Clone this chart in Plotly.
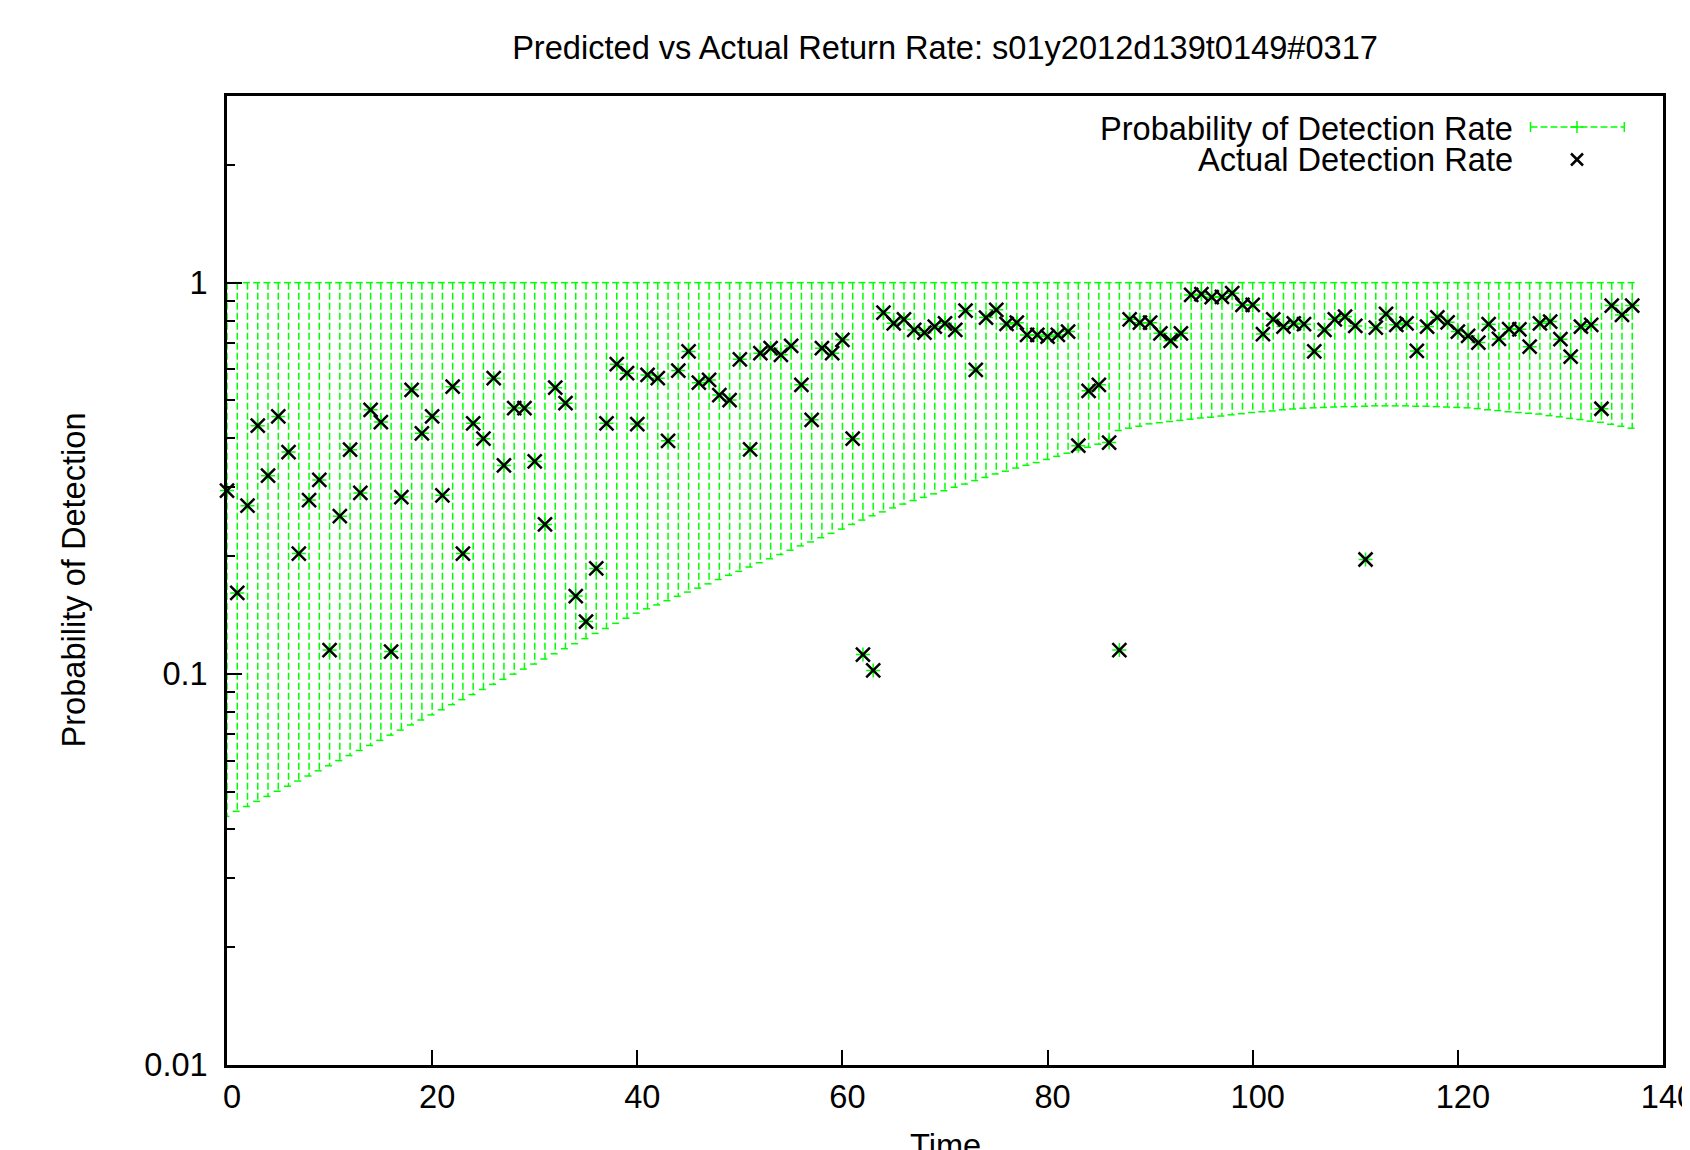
import math
import plotly.graph_objects as go

# ---------------- data ----------------
TITLE = "Predicted vs Actual Return Rate: s01y2012d139t0149#0317"
X_TITLE = "Time"
Y_TITLE = "Probability of Detection"
BAND_NAME = "Probability of Detection Rate"
ACTUAL_NAME = "Actual Detection Rate"

time = list(range(0, 138))

actual_rate = [
    0.294, 0.161, 0.269, 0.431, 0.321, 0.455, 0.369, 0.203, 0.278, 0.313,
    0.115, 0.253, 0.374, 0.290, 0.473, 0.440, 0.114, 0.283, 0.532, 0.412,
    0.455, 0.286, 0.542, 0.203, 0.437, 0.399, 0.570, 0.341, 0.478, 0.478,
    0.349, 0.241, 0.539, 0.492, 0.158, 0.136, 0.186, 0.437, 0.619, 0.587,
    0.435, 0.581, 0.570, 0.394, 0.596, 0.667, 0.555, 0.564, 0.516, 0.501,
    0.637, 0.375, 0.660, 0.680, 0.654, 0.689, 0.548, 0.446, 0.680, 0.660,
    0.714, 0.399, 0.112, 0.102, 0.838, 0.787, 0.806, 0.757, 0.745, 0.772,
    0.787, 0.757, 0.848, 0.598, 0.814, 0.852, 0.784, 0.790, 0.735, 0.735,
    0.728, 0.735, 0.750, 0.383, 0.529, 0.548, 0.390, 0.115, 0.806, 0.790,
    0.790, 0.742, 0.710, 0.742, 0.930, 0.934, 0.918, 0.920, 0.940, 0.877,
    0.877, 0.739, 0.806, 0.772, 0.787, 0.783, 0.667, 0.757, 0.806, 0.819,
    0.775, 0.196, 0.767, 0.832, 0.780, 0.787, 0.669, 0.772, 0.815, 0.792,
    0.750, 0.731, 0.703, 0.783, 0.718, 0.761, 0.760, 0.686, 0.787, 0.795,
    0.717, 0.647, 0.772, 0.780, 0.476, 0.874, 0.827, 0.874,
]

lower_bound = [
    0.0432, 0.0445, 0.0458, 0.0472, 0.0486, 0.0501, 0.0516, 0.0532, 0.0548, 0.0565,
    0.0582, 0.0600, 0.0618, 0.0637, 0.0656, 0.0676, 0.0697, 0.0718, 0.0740, 0.0762,
    0.0785, 0.0809, 0.0834, 0.0859, 0.0885, 0.0912, 0.0940, 0.0968, 0.0998, 0.1028,
    0.1059, 0.1091, 0.1125, 0.1159, 0.1194, 0.1230, 0.1268, 0.1306, 0.1346, 0.1387,
    0.1429, 0.1466, 0.1500, 0.1538, 0.1578, 0.1618, 0.1656, 0.1698, 0.1742, 0.1786,
    0.1828, 0.1875, 0.1923, 0.1968, 0.2018, 0.2070, 0.2123, 0.2173, 0.2228, 0.2286,
    0.2344, 0.2410, 0.2472, 0.2535, 0.2594, 0.2655, 0.2716, 0.2773, 0.2825, 0.2884,
    0.2938, 0.2999, 0.3055, 0.3119, 0.3177, 0.3243, 0.3296, 0.3357, 0.3412, 0.3467,
    0.3532, 0.3597, 0.3664, 0.3733, 0.3793, 0.3864, 0.3981, 0.4188, 0.4246, 0.4295,
    0.4355, 0.4385, 0.4416, 0.4446, 0.4477, 0.4508, 0.4529, 0.4560, 0.4592, 0.4624,
    0.4656, 0.4677, 0.4699, 0.4732, 0.4753, 0.4775, 0.4786, 0.4797, 0.4808, 0.4819,
    0.4819, 0.4831, 0.4842, 0.4842, 0.4842, 0.4842, 0.4831, 0.4831, 0.4819, 0.4808,
    0.4797, 0.4786, 0.4764, 0.4732, 0.4710, 0.4677, 0.4656, 0.4634, 0.4613, 0.4571,
    0.4539, 0.4498, 0.4467, 0.4426, 0.4395, 0.4345, 0.4295, 0.4246,
]

UPPER_VALUE = 1.0
upper_bound = [UPPER_VALUE for _ in time]

x_tick_vals = [0, 20, 40, 60, 80, 100, 120, 140]
y_tick_vals = [0.01, 0.1, 1]
y_tick_text = ["0.01", "0.1", "1"]
y_minor_vals = [0.02, 0.03, 0.04, 0.05, 0.06, 0.07, 0.08, 0.09,
                0.2, 0.3, 0.4, 0.5, 0.6, 0.7, 0.8, 0.9, 2]

# ---------------- style ----------------
PAGE_OFF = 8                    # default body margin of the html page
W, H = 1690 - PAGE_OFF, 1150 - PAGE_OFF
ML, MR, MT, MB = 227 - PAGE_OFF, 27, 96 - PAGE_OFF, 85
GREEN = "#00ff00"
FONT = "Liberation Sans, Arial, Helvetica, sans-serif"
FS = 32.6
DASH = "7px,3px"
CAP = 0.45  # half width of error-bar caps in x units

# ---------------- error bars built from the data ----------------
bar_x, bar_y = [], []
cap_x, cap_y = [], []
for t, lo, hi in zip(time, lower_bound, upper_bound):
    bar_x += [t, t, None]
    bar_y += [hi, lo, None]
    cap_x += [t - CAP, t + CAP, None, t - CAP, t + CAP, None]
    cap_y += [lo, lo, None, hi, hi, None]

fig = go.Figure()
fig.add_trace(go.Scatter(x=bar_x, y=bar_y, mode="lines",
                         line=dict(color=GREEN, width=1.5, dash=DASH),
                         hoverinfo="skip", showlegend=False))
fig.add_trace(go.Scatter(x=cap_x, y=cap_y, mode="lines",
                         line=dict(color=GREEN, width=1.5, dash=DASH),
                         hoverinfo="skip", showlegend=False))
fig.add_trace(go.Scatter(x=time, y=actual_rate, mode="markers", name=BAND_NAME,
                         marker=dict(symbol="cross-thin", size=10, color=GREEN,
                                     line=dict(color=GREEN, width=1.5)),
                         cliponaxis=False, showlegend=False))
fig.add_trace(go.Scatter(x=time, y=actual_rate, mode="markers", name=ACTUAL_NAME,
                         marker=dict(symbol="x-thin", size=14, color="black",
                                     line=dict(color="black", width=2.5)),
                         cliponaxis=False, showlegend=False))

# ---------------- legend (gnuplot style: text left, sample right) ----------------
PW = W - ML - MR
PH = H - MT - MB


def fx(p):  # page pixel -> paper fraction
    return (p - PAGE_OFF - ML) / PW


def fy(p):
    return (H - MB - (p - PAGE_OFF)) / PH


row1, row2 = 128, 159.5
text_right = 1515
s0, s1, smid = 1530.5, 1624.3, 1577

shapes = []


def seg(x0, y0, x1, y1, color, width, dash=None):
    d = dict(type="line", xref="paper", yref="paper",
             x0=fx(x0), y0=fy(y0), x1=fx(x1), y1=fy(y1),
             line=dict(color=color, width=width))
    if dash:
        d["line"]["dash"] = dash
    shapes.append(d)


seg(s0, 127, s1, 127, GREEN, 1.5, DASH)
seg(s0, 122, s0, 132, GREEN, 1.5)
seg(s1, 122, s1, 132, GREEN, 1.5)
seg(smid, 121, smid, 133, GREEN, 1.5)
seg(smid - 6.5, 127, smid + 6.5, 127, GREEN, 1.5)
seg(smid - 6, 159.5 - 6, smid + 6, 159.5 + 6, "black", 2.5)
seg(smid - 6, 159.5 + 6, smid + 6, 159.5 - 6, "black", 2.5)

annotations = [
    dict(text=BAND_NAME, xref="paper", yref="paper", x=fx(text_right), y=fy(row1),
         xanchor="right", yanchor="middle", showarrow=False,
         font=dict(family=FONT, size=FS, color="black")),
    dict(text=ACTUAL_NAME, xref="paper", yref="paper", x=fx(text_right), y=fy(row2),
         xanchor="right", yanchor="middle", showarrow=False,
         font=dict(family=FONT, size=FS, color="black")),
    dict(text=X_TITLE, xref="paper", yref="paper", x=0.5, y=0, yshift=-80,
         xanchor="center", yanchor="middle", showarrow=False,
         font=dict(family=FONT, size=FS, color="black")),
    dict(text=Y_TITLE, xref="paper", yref="paper", x=0, y=0.5, xshift=73 - 227,
         xanchor="center", yanchor="middle", textangle=-90, showarrow=False,
         font=dict(family=FONT, size=FS, color="black")),
]

fig.update_layout(
    width=W, height=H,
    margin=dict(l=ML, r=MR, t=MT, b=MB, autoexpand=False),
    paper_bgcolor="white", plot_bgcolor="white",
    showlegend=False,
    font=dict(family=FONT, size=FS, color="black"),
    title=dict(text=TITLE, x=0.5, xref="paper", xanchor="center",
               y=1 - (48 - PAGE_OFF) / H, yref="container", yanchor="middle",
               font=dict(family=FONT, size=FS, color="black")),
    xaxis=dict(range=[0, 140], tickvals=x_tick_vals, ticks="inside", ticklen=15,
               tickwidth=1.5, tickcolor="black", showline=True, linecolor="black",
               linewidth=2.5, mirror=True, showgrid=False, zeroline=False,
               tickfont=dict(family=FONT, size=FS, color="black"),
               ticklabelstandoff=1, ticklabelshift=5,
               ticklabeloverflow="allow"),
    yaxis=dict(type="log", range=[-2, math.log10(3)], tickvals=y_tick_vals,
               ticktext=y_tick_text, ticks="inside", ticklen=15, tickwidth=1.5,
               tickcolor="black", showline=True, linecolor="black", linewidth=2.5,
               mirror=True, showgrid=False, zeroline=False,
               tickfont=dict(family=FONT, size=FS, color="black"),
               ticklabelstandoff=10,
               minor=dict(tickvals=y_minor_vals, ticks="inside", ticklen=8,
                          tickwidth=1.5, tickcolor="black", showgrid=False)),
    shapes=shapes,
    annotations=annotations,
)

fig.write_html("out.html")
